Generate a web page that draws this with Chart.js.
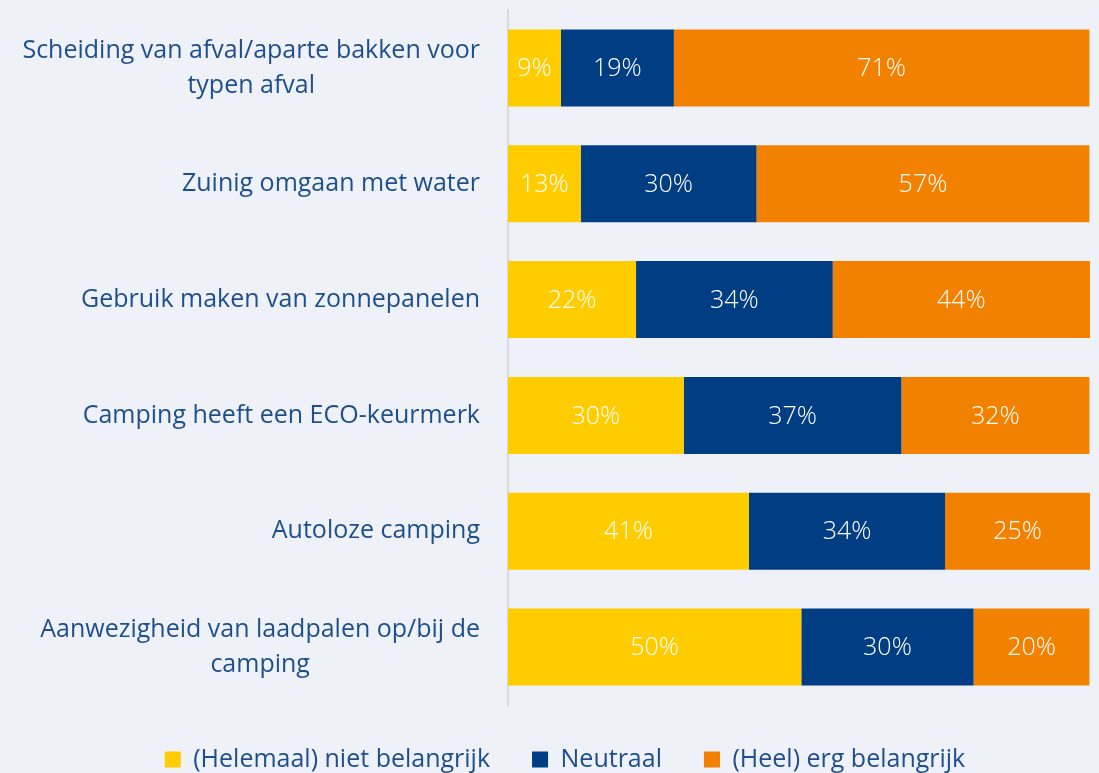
<!DOCTYPE html>
<html>
<head>
<meta charset="utf-8">
<script src="https://cdn.jsdelivr.net/npm/chart.js@4/dist/chart.umd.min.js"></script>
<style>
  html, body { margin: 0; padding: 0; background: #eef2f8; }
  #wrap { width: 1099px; height: 773px; }
</style>
</head>
<body>
<div id="wrap"><canvas id="chart"></canvas></div>
<script>
  'use strict';

  var categories = [
    ['Scheiding van afval/aparte bakken voor', 'typen afval'],
    ['Zuinig omgaan met water'],
    ['Gebruik maken van zonnepanelen'],
    ['Camping heeft een ECO-keurmerk'],
    ['Autoloze camping'],
    ['Aanwezigheid van laadpalen op/bij de', 'camping']
  ];
  var seriesNames = ['(Helemaal) niet belangrijk', 'Neutraal', '(Heel) erg belangrijk'];
  var notImportant = [9.1, 12.5, 22.0, 30.2, 41.4, 50.4];
  var neutral = [19.4, 30.2, 33.8, 37.4, 33.7, 29.6];
  var important = [71.4, 57.2, 44.2, 32.3, 24.9, 19.9];

  var colors = ['#ffcc00', '#003d82', '#f28100'];
  var textColor = '#1f4e8c';
  var fontFamily = "'Open Sans', sans-serif";
  var fontSize = 25;

  // white percentage labels in the middle of each segment
  var segmentLabels = {
    id: 'segmentLabels',
    afterDatasetsDraw: function (chart) {
      var ctx = chart.ctx;
      ctx.save();
      ctx.font = '300 ' + fontSize + 'px ' + fontFamily;
      ctx.fillStyle = '#ffffff';
      ctx.textAlign = 'center';
      ctx.textBaseline = 'middle';
      chart.data.datasets.forEach(function (ds, i) {
        chart.getDatasetMeta(i).data.forEach(function (bar, j) {
          var c = bar.getCenterPoint();
          ctx.fillText(Math.round(ds.data[j]) + '%', c.x, c.y + 1);
        });
      });
      ctx.restore();
    }
  };

  // category labels: block right-aligned to the axis, lines centred in the block
  var categoryLabels = {
    id: 'categoryLabels',
    afterDraw: function (chart) {
      var ctx = chart.ctx;
      var yScale = chart.scales.y;
      var right = chart.chartArea.left - 28;
      var lineH = 35;
      ctx.save();
      ctx.font = fontSize + 'px ' + fontFamily;
      ctx.fillStyle = textColor;
      ctx.textAlign = 'center';
      ctx.textBaseline = 'middle';
      categories.forEach(function (lines, i) {
        var w = 0;
        lines.forEach(function (l) { w = Math.max(w, ctx.measureText(l).width); });
        var cx = right - w / 2;
        var cy = yScale.getPixelForValue(i);
        var y0 = cy - (lines.length - 1) * lineH / 2;
        lines.forEach(function (l, k) {
          ctx.fillText(l, cx, y0 + k * lineH);
        });
      });
      ctx.restore();
    }
  };

  new Chart(document.getElementById('chart'), {
    type: 'bar',
    data: {
      labels: categories,
      datasets: [
        { label: seriesNames[0], data: notImportant, backgroundColor: colors[0] },
        { label: seriesNames[1], data: neutral, backgroundColor: colors[1] },
        { label: seriesNames[2], data: important, backgroundColor: colors[2] }
      ]
    },
    options: {
      indexAxis: 'y',
      responsive: true,
      maintainAspectRatio: false,
      animation: false,
      datasets: { bar: { categoryPercentage: 1, barPercentage: 0.665 } },
      layout: { padding: { top: 10, right: 9, bottom: -9, left: 40 } },
      plugins: {
        tooltip: { enabled: false },
        legend: {
          position: 'bottom',
          labels: {
            boxWidth: 16,
            boxHeight: 16,
            padding: 42,
            color: textColor,
            font: { family: fontFamily, size: fontSize }
          }
        }
      },
      scales: {
        x: {
          stacked: true,
          min: 0,
          max: 100,
          display: false
        },
        y: {
          stacked: true,
          grid: { display: false },
          border: { display: true, color: '#d9d9d9', width: 2 },
          ticks: { display: false },
          afterFit: function (scale) { scale.width = 468; }
        }
      }
    },
    plugins: [segmentLabels, categoryLabels]
  });
</script>
</body>
</html>
